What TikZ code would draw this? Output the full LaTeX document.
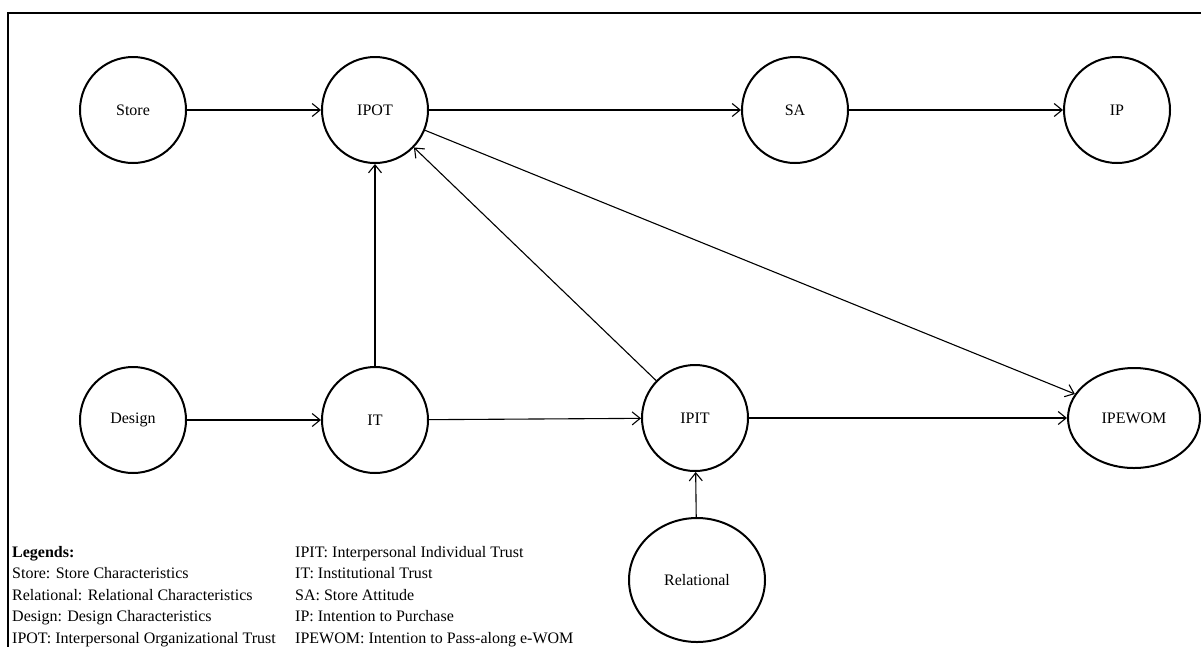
\documentclass[tikz,border=0pt]{standalone}
\usepackage{fontspec}
\setmainfont{Liberation Serif}
\usetikzlibrary{arrows.meta,shapes.geometric}

\begin{document}
\begin{tikzpicture}[x=1pt,y=-1pt,>={Straight Barb[length=8pt,width=13pt]},
	var/.style={circle,draw,line width=2pt,minimum size=106pt,inner sep=0pt,font=\fontsize{16}{19}\selectfont},
	ovar/.style={ellipse,draw,line width=2pt,inner sep=0pt,font=\fontsize{16}{19}\selectfont},
	link/.style={->,line width=1.1pt},
	legend/.style={inner sep=0pt,anchor=base west,font=\fontsize{16}{19}\selectfont}]
	\clip (0,0) rectangle (1201,646);
	\draw[line width=2pt] (8,13) rectangle (1240,690);
	% constructs
	\node[var] (store) at (133,110) {Store};
	\node[var] (ipot) at (375,110) {IPOT};
	\node[var] (sa) at (795,110) {SA};
	\node[var] (ip) at (1117,110) {IP};
	\node[var] (design) at (133,420) {Design};
	\node[var] (it) at (375,420) {IT};
	\node[var] (ipit) at (695,418) {IPIT};
	\node[ovar,minimum width=132pt,minimum height=100pt] (ipewom) at (1134,418) {IPEWOM};
	\node[ovar,minimum width=136pt,minimum height=124pt] (relational) at (697,580) {Relational};
	% paths
	\draw[link] (store)--(ipot);
	\draw[link] (ipot)--(sa);
	\draw[link] (sa)--(ip);
	\draw[link] (it)--(ipot);
	\draw[link] (ipit)--(ipot);
	\draw[link] (ipot)--(ipewom);
	\draw[link] (design)--(it);
	\draw[link] (it)--(ipit);
	\draw[link] (ipit)--(ipewom);
	\draw[link] (relational)--(ipit);
	% legend
	\foreach \t [count=\i] in {{\bfseries Legends:},Store: Store Characteristics,Relational: Relational Characteristics,Design: Design Characteristics,IPOT: Interpersonal Organizational Trust}
		{\node[legend] (legA\i) at (12,{557+21.5*(\i-1)}) {\t};}
	\foreach \t [count=\i] in {IPIT: Interpersonal Individual Trust,IT: Institutional Trust,SA: Store Attitude,IP: Intention to Purchase,IPEWOM: Intention to Pass-along e-WOM}
		{\node[legend] (legB\i) at (295,{557+21.5*(\i-1)}) {\t};}
\end{tikzpicture}
\end{document}
